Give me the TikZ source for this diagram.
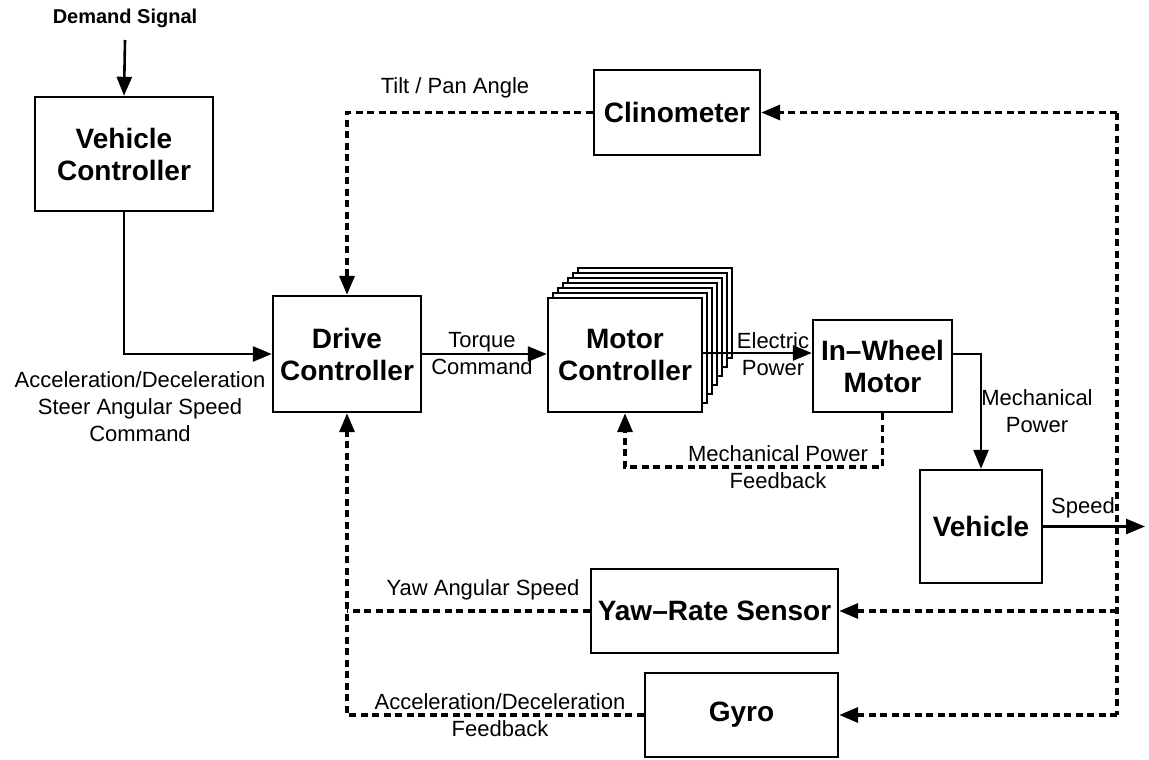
\documentclass[tikz,border=0pt]{standalone}
\usepackage{fontspec}
\setmainfont{Liberation Sans}
\usetikzlibrary{arrows.meta}
\begin{document}
\begin{tikzpicture}[x=1pt,y=-1pt,
  box/.style={draw,line width=2.4pt,fill=white,inner sep=0pt,align=center,
    font=\fontsize{28}{32}\selectfont\bfseries},
  lbl/.style={inner sep=0pt,align=center,font=\fontsize{22}{27}\selectfont},
  arr/.style={-{Triangle[length=19pt,width=15pt]}},
  sol/.style={line width=2.6pt},
  dsh/.style={line width=3.4pt,dash pattern=on 7pt off 4.5pt}]
\useasboundingbox (0,0) rectangle (1149,760);
% boxes
\node[box,minimum width=178pt,minimum height=114pt] (vc) at (124,154) {Vehicle\\Controller};
\node[box,minimum width=148pt,minimum height=116pt] (drive) at (347,354) {Drive\\Controller};
\foreach \k in {6,5,...,1}{
  \draw[line width=1.8pt,fill=white] (548+5*\k,298-5*\k) rectangle (702+5*\k,412-9*\k);
}
\node[box,minimum width=154pt,minimum height=114pt] (mc) at (625,355) {Motor\\Controller};
\node[box,minimum width=139pt,minimum height=92pt] (iw) at (882.5,366) {In{\textendash}Wheel\\Motor};
\node[box,minimum width=122pt,minimum height=113pt] (veh) at (981,526.5) {Vehicle};
\node[box,minimum width=166pt,minimum height=85pt] (cl) at (677,112.5) {Clinometer};
\node[box,minimum width=247pt,minimum height=84pt] (yaw) at (714.5,611) {Yaw{\textendash}Rate Sensor};
\node[box,minimum width=193pt,minimum height=84pt] (gyro) at (741.5,715) {Gyro};
% labels
\node[lbl,font=\fontsize{20}{24}\selectfont\bfseries] (ds) at (125,18) {Demand Signal};
\node[lbl] (lacc) at (140,407) {Acceleration/Deceleration\\Steer Angular Speed\\Command};
\node[lbl] (ltq) at (482,354) {Torque\\Command};
\node[lbl] (lel) at (773,354) {Electric\\Power};
\node[lbl] (lmp) at (1037,411) {Mechanical\\Power};
\node[lbl] (lfb) at (778,467) {Mechanical Power\\Feedback};
\node[lbl] (lsp) at (1083,508) {Speed};
\node[lbl] (ltilt) at (455,88) {Tilt / Pan Angle};
\node[lbl] (lyaw) at (483,590) {Yaw Angular Speed};
\node[lbl] (lgy) at (500,715) {Acceleration/Deceleration\\Feedback};
% coordinates
\coordinate (dsend) at (125,40);
\coordinate (spend) at (1145,526.5);
\coordinate (rtop) at (1117,112.5);
\coordinate (rbot) at (1117,715);
% solid connectors
\draw[sol,arr] (dsend) -- (vc.north);
\draw[sol,arr] (vc.south) |- (drive.west);
\draw[sol,arr] (drive.east) -- (drive.east -| mc.west);
\draw[sol,arr] ([yshift=2pt]mc.east) -- ([yshift=2pt]mc.east -| iw.west);
\draw[sol,arr] ([yshift=12pt]iw.east) -| (veh.north);
\draw[sol,arr] (veh.east) -- (spend);
% dashed connectors
\draw[dsh,arr] (iw.south) |- (mc.south |- 0,467) -- (mc.south);
\draw[dsh,arr] (cl.west) -| (drive.north);
\draw[dsh] (rtop) -- (rbot);
\draw[dsh,arr] (rtop) -- (cl.east);
\draw[dsh,arr] (rbot |- yaw.east) -- (yaw.east);
\draw[dsh,arr] (rbot) -- (gyro.east);
\draw[dsh,arr] (gyro.west) -| (drive.south);
\draw[dsh] (yaw.west) -- (yaw.west -| drive.south);
\end{tikzpicture}
\end{document}
